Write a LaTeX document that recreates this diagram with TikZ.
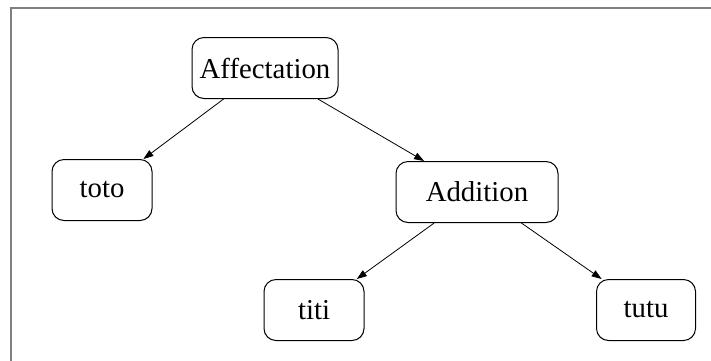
\documentclass[tikz,border=0pt]{standalone}
\usepackage{fontspec}
\setmainfont{Liberation Serif}
\usetikzlibrary{arrows.meta}

\begin{document}
\begin{tikzpicture}[x=1pt,y=-1pt,thin]
%Styles for the tree boxes and edges
\tikzset{
  treenode/.style={draw,line width=1pt,rounded corners=12pt,minimum height=61pt,
    inner sep=0pt,font=\fontsize{28.8}{30}\selectfont},
  treeedge/.style={-{Triangle[length=10pt,width=7pt]},line width=0.8pt}
}

% Define coordinates
\coordinate (pagetl) at (0,0);
\coordinate (pagebr) at (711,360);
\coordinate (framecorner) at (11,8);

% Page and frame
\useasboundingbox (pagetl) rectangle (pagebr);
\clip (pagetl) rectangle (pagebr);
\draw[gray,line width=1.2pt] (11,370) -- (framecorner) -- (720,8);

% Nodes of the tree
\node[treenode,minimum width=146pt] (affect) at (265,68) {Affectation};
\node[treenode,minimum width=100pt] (toto) at (102,190) {toto};
\node[treenode,minimum width=162pt] (addition) at (477,192) {Addition};
\node[treenode,minimum width=100pt] (titi) at (314,310) {titi};
\node[treenode,minimum width=99pt] (tutu) at (646,310) {tutu};

% Edges
\draw[treeedge] (affect) -- (toto);
\draw[treeedge] (affect) -- (addition);
\draw[treeedge] (addition) -- (titi);
\draw[treeedge] (addition) -- (tutu);

\end{tikzpicture}
\end{document}
